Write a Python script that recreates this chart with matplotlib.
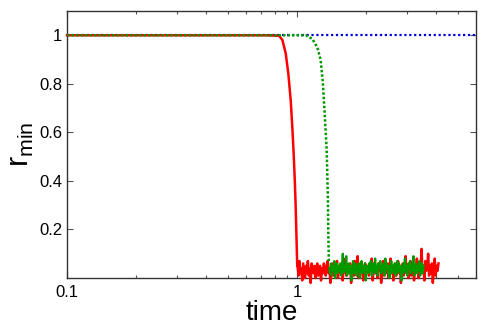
import numpy as np
import matplotlib
matplotlib.use("Agg")
import matplotlib.pyplot as plt
from matplotlib.ticker import LogLocator, FixedLocator, NullFormatter

plt.rcParams['font.family'] = ['Liberation Sans', 'DejaVu Sans']

# red curve: plateau, drop, then fluctuations near zero
red_t_drop = [0.1, 0.73, 0.836, 0.864, 0.893, 0.917, 0.939, 0.954, 0.968, 0.978, 0.986, 0.992, 0.997, 1.002]
red_r_drop = [1.0, 1.0, 0.998, 0.98, 0.925, 0.84, 0.73, 0.62, 0.50, 0.40, 0.30, 0.20, 0.11, 0.05]
red_noise = [0.05, 0.01, 0.07, 0.02, 0.04, -0.01, 0.06, 0.03, 0.00, 0.05, 0.02, 0.07,
             0.01, 0.04, -0.02, 0.06, 0.03, 0.02, 0.05, 0.00, 0.04, 0.06, 0.01, 0.03,
             0.05, -0.01, 0.04, 0.02, 0.06, 0.03, 0.01, 0.05, 0.07, 0.02, 0.04, -0.02,
             0.03, 0.06, 0.01, 0.05, 0.02, 0.04, 0.07, 0.00, 0.03, 0.05, 0.02, 0.06,
             -0.01, 0.04, 0.03, 0.08, 0.01, 0.05, 0.02, 0.04, 0.06, -0.02, 0.03, 0.05,
             0.01, 0.07, 0.02, 0.04, 0.09, 0.00, 0.05, 0.03, 0.06, 0.02, -0.01, 0.04,
             0.06, 0.02, 0.05, 0.03, 0.01, 0.05, 0.03, 0.08, -0.01, 0.04, 0.06, 0.02,
             0.04, 0.00, 0.06, 0.03, 0.05, -0.02, 0.04, 0.07, 0.01, 0.03, 0.05, 0.02,
             0.06, 0.00, 0.04, 0.08, 0.02, 0.05, -0.01, 0.03, 0.06, 0.01, 0.04, 0.07,
             0.02, 0.05, -0.02, 0.03, 0.06, 0.01, 0.04, 0.09, 0.02, 0.05, 0.00, 0.03,
             0.07, 0.01, 0.04, 0.06, -0.01, 0.05, 0.02, 0.08, 0.03, 0.00, 0.06, 0.04,
             0.12, 0.02, 0.05, -0.01, 0.07, 0.03, 0.04, 0.10, 0.01, 0.05, 0.02, 0.06,
             -0.02, 0.04, 0.08, 0.01, 0.05, 0.03, 0.06]
red_noise_range = (1.005, 4.12)

# green curve
green_t_drop = [0.1, 1.0, 1.09, 1.165, 1.225, 1.266, 1.296, 1.322, 1.345, 1.353, 1.362, 1.368, 1.375]
green_r_drop = [1.0, 1.0, 1.0, 0.985, 0.95, 0.9, 0.8, 0.66, 0.53, 0.44, 0.32, 0.18, 0.06]
green_noise = [0.04, 0.02, 0.06, 0.01, 0.05, 0.03, 0.07, 0.00, 0.04, 0.06, 0.02, 0.05,
               0.03, 0.06, 0.01, 0.05, 0.10, 0.02, 0.05, 0.03, 0.09, 0.01, 0.04, 0.06,
               0.02, 0.05, -0.01, 0.03, 0.07, 0.02, 0.04, 0.06, 0.01, 0.05, 0.03, 0.06,
               0.00, 0.04, 0.07, 0.02, 0.05, 0.03, 0.06, -0.01, 0.04, 0.05, 0.02, 0.06,
               0.03, 0.07, 0.01, 0.04, 0.06, 0.02, 0.08, 0.03, 0.05, 0.01, 0.06, 0.04,
               0.07, 0.02, 0.05, 0.03, 0.06, 0.01, 0.08, 0.04, 0.06, 0.02, 0.05, 0.00,
               0.04, 0.07, 0.02, 0.05, 0.03, 0.06, 0.01, 0.04, 0.07, 0.02, 0.06, 0.03,
               0.05, -0.01, 0.04, 0.06, 0.02, 0.08, 0.03, 0.05, 0.01, 0.06, 0.04, 0.07,
               0.02, 0.05, 0.03, 0.09, 0.01, 0.04, 0.06, 0.02, 0.05, 0.03, 0.07, 0.01,
               0.04, 0.06, 0.02, 0.05]
green_noise_range = (1.38, 3.55)

# blue stays at 1
blue_t = [0.1, 6.0]
blue_r = [1.0, 1.0]

fig = plt.figure(figsize=(4.91, 3.27), dpi=100)
ax = fig.add_axes([0.1365, 0.1498, 0.833, 0.8166])

red_t = red_t_drop + list(np.geomspace(*red_noise_range, len(red_noise)))
red_r = red_r_drop + red_noise
green_t_n = np.geomspace(*green_noise_range, len(green_noise))

ax.plot(blue_t, blue_r, color='#0000dd', lw=1.6, ls=(0, (1, 1.2)), zorder=2)
ax.plot(red_t, red_r, color='#ff0000', lw=1.8, clip_on=False, zorder=3)
ax.plot(green_t_drop, green_r_drop, color='#009900', lw=1.8, ls=(0, (1, 0.8)), zorder=4)
ax.plot(green_t_n, green_noise, color='#009900', lw=1.6, clip_on=False, zorder=4)

ax.set_xscale('log')
ax.set_xlim(0.1, 6.0)
ax.set_ylim(0, 1.1)

ax.xaxis.set_major_locator(FixedLocator([0.1, 1]))
ax.set_xticklabels(['0.1', '1'])
ax.xaxis.set_minor_locator(LogLocator(base=10, subs=np.arange(2, 10)))
ax.xaxis.set_minor_formatter(NullFormatter())
ax.set_yticks([0.2, 0.4, 0.6, 0.8, 1.0])
ax.set_yticklabels(['0.2', '0.4', '0.6', '0.8', '1'])

ax.tick_params(which='both', direction='in', top=True, right=True, labelsize=12, color='#555555')
ax.tick_params(which='major', length=4, width=0.8)
ax.tick_params(which='minor', length=2.5, width=0.8)
ax.tick_params(axis='x', pad=5)
for s in ax.spines.values():
    s.set_linewidth(1.0)
    s.set_color('#333333')

ax.set_xlabel('time', fontsize=20, labelpad=0)
ax.set_ylabel(r'$\mathregular{r_{min}}$', fontsize=22, labelpad=2)

fig.savefig('out.png', dpi=100)
